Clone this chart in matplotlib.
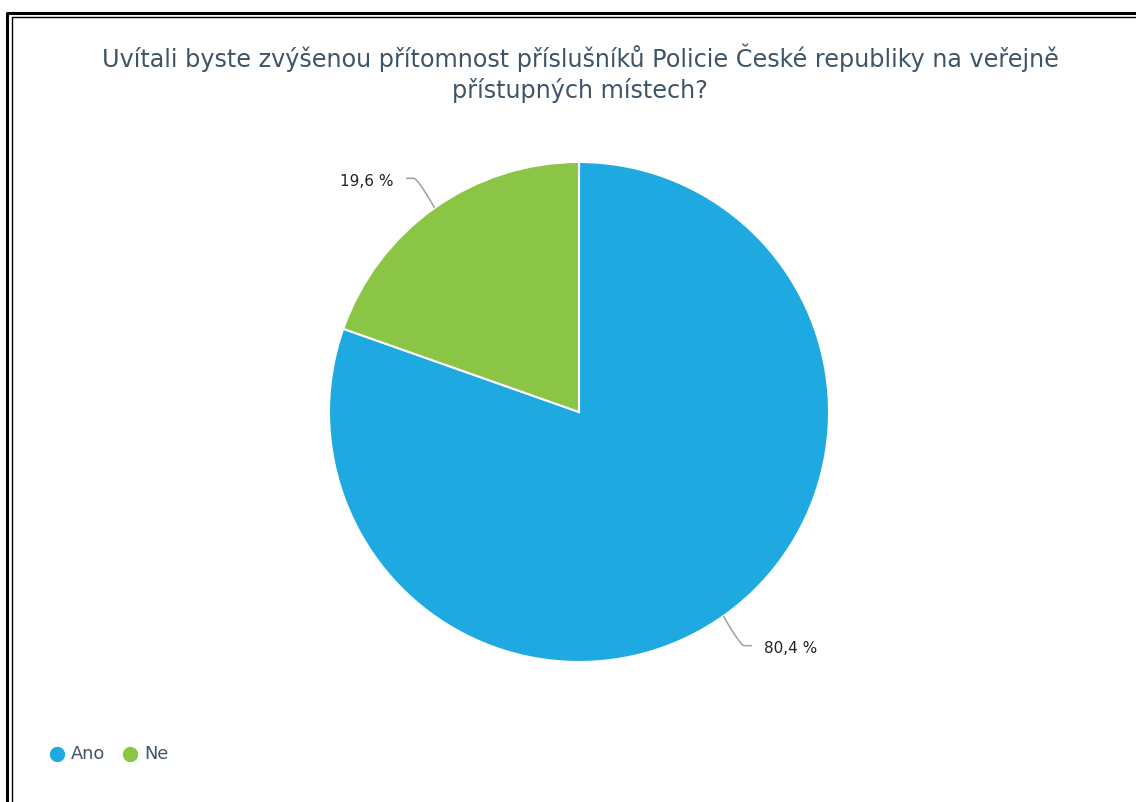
import numpy as np
import matplotlib
matplotlib.use("Agg")
import matplotlib.pyplot as plt
from matplotlib.lines import Line2D
from matplotlib.path import Path
from matplotlib.patches import PathPatch

title = "Uvítali byste zvýšenou přítomnost příslušníků Policie České republiky na veřejně\npřístupných místech?"
categories = ["Ano", "Ne"]
shares = [80.4, 19.6]
labels = ["80,4 %", "19,6 %"]
colors = ["#1fa9e1", "#8bc546"]

W, H = 1136, 802
fig = plt.figure(figsize=(W / 100, H / 100), dpi=100)
fig.patch.set_facecolor("white")

# double frame, runs off the right and bottom edge
fig.add_artist(Line2D([7 / W, 7 / W, 1.2], [-0.2, 1 - 12.5 / H, 1 - 12.5 / H],
                      transform=fig.transFigure, color="black", lw=2.2))
fig.add_artist(Line2D([11.5 / W, 11.5 / W, 1.2], [-0.2, 1 - 16.5 / H, 1 - 16.5 / H],
                      transform=fig.transFigure, color="black", lw=1.0))

fig.text(580 / W, 1 - 73 / H, title, ha="center", va="center",
         fontsize=17.2, color="#3e5468", linespacing=1.32, family="DejaVu Sans")

# pie: center (579, 412), radius 250 px
ax = fig.add_axes([(579 - 250) / W, 1 - 662 / H, 500 / W, 500 / H])
wedges, _ = ax.pie(shares, colors=colors, startangle=90, counterclock=False,
                   wedgeprops=dict(edgecolor="white", linewidth=1.5))
ax.set_xlim(-1, 1)
ax.set_ylim(-1, 1)
ax.set_aspect("equal")
ax.axis("off")

for w, lab in zip(wedges, labels):
    mid = np.deg2rad((w.theta1 + w.theta2) / 2)
    x0, y0 = np.cos(mid), np.sin(mid)
    side = 1 if x0 > 0 else -1
    # elbow just outside the rim, then a short horizontal tail
    xe, ye = 1.145 * x0 + side * 0.0, 1.145 * y0
    xc, yc = 1.10 * x0 + side * 0.01, 1.145 * y0
    xt = xe + side * 0.03
    verts = [(x0, y0), (xc, yc), (xe, ye), (xt, ye)]
    codes = [Path.MOVETO, Path.CURVE3, Path.CURVE3, Path.LINETO]
    ax.add_patch(PathPatch(Path(verts, codes), fill=False, edgecolor="#a0a0a0",
                           lw=1.1, clip_on=False))
    ax.text(xt + side * 0.05, ye - 0.012, lab, ha="left" if side > 0 else "right",
            va="center", fontsize=11, color="#222222", family="DejaVu Sans")

# legend drawn by hand: dot + label
leg_y = 1 - 754 / H
leg_x = [57, 130]
for c, name, x in zip(colors, categories, leg_x):
    fig.add_artist(Line2D([x / W], [leg_y], transform=fig.transFigure, marker="o",
                          markersize=10, markerfacecolor=c, markeredgecolor=c, ls=""))
    fig.text((x + 14) / W, leg_y, name, ha="left", va="center", fontsize=12.8,
             color="#3e5468", family="DejaVu Sans")

fig.savefig("out.png", dpi=100)
